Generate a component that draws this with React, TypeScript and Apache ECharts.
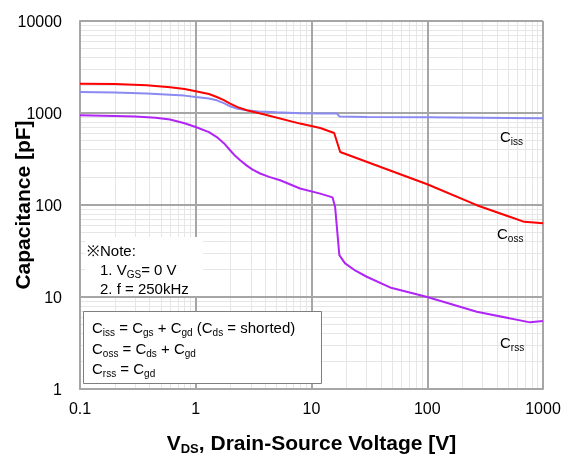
import React, { useEffect, useRef } from 'react';
import * as echarts from 'echarts';

// V_DS [V] and capacitance [pF]
const cissV = [0.1, 0.2, 0.376, 0.6, 0.8, 1, 1.3, 1.52, 1.75, 1.98, 2.3, 2.76, 3.5, 5, 8, 12, 16.6, 17.5, 30, 100, 300, 1000];
const cissC = [1690, 1670, 1625, 1580, 1545, 1493, 1440, 1374, 1280, 1183, 1110, 1070, 1040, 1016, 995, 985, 985, 915, 905, 898, 888, 876];

const cossV = [0.1, 0.2, 0.376, 0.6, 0.8, 1, 1.3, 1.52, 1.75, 1.98, 2.3, 2.76, 4, 7.96, 11.9, 15.7, 17.7, 100, 268, 689, 1000];
const cossC = [2085, 2060, 2000, 1900, 1820, 1720, 1610, 1493, 1380, 1265, 1160, 1070, 955, 767, 687, 607, 377, 168, 99.5, 65.6, 63.5];

const crssV = [0.1, 0.2, 0.3, 0.45, 0.6, 0.8, 1, 1.3, 1.52, 1.75, 1.98, 2.2, 2.42, 2.76, 3.1, 3.6, 4.3, 5.36, 7.96, 11.9, 15.2, 16, 17.4, 19.5, 24, 30, 47.7, 100, 268, 774, 1000];
const crssC = [944, 930, 918, 890, 850, 775, 705, 620, 548, 470, 394, 340, 306, 268, 242, 220, 202, 186, 151, 133, 121, 95, 28.5, 23.2, 19.3, 16.6, 12.7, 10, 6.9, 5.3, 5.5];

const xDecades = [0.1, 1, 10, 100];
const yDecades = [1, 10, 100, 1000];
const minorMult = [2, 3, 4, 5, 6, 7, 8, 9];

const FONT = 'Liberation Sans, Arial, sans-serif';

export default function App() {
  const ref = useRef<HTMLDivElement>(null);
  useEffect(() => {
    const chart = echarts.init(ref.current!, null, { renderer: 'svg' });
    const pair = (xs: number[], ys: number[]) => xs.map((x, i) => [x, ys[i]]);
    const minorX = xDecades.flatMap((d) => minorMult.map((m) => ({ xAxis: +(d * m).toPrecision(4) })));
    const minorY = yDecades.flatMap((d) => minorMult.map((m) => ({ yAxis: +(d * m).toPrecision(4) })));
    const fmt = (v: number) => String(+(+v).toPrecision(6));

    const gRich = {
      n: { fontSize: 15, lineHeight: 20, fontFamily: FONT, fill: '#000' },
      s: { fontSize: 10, lineHeight: 10, verticalAlign: 'bottom', fontFamily: FONT, fill: '#000' },
    };
    const txt = (x: number, y: number, text: string) => ({
      type: 'text',
      x,
      y,
      z: 20,
      silent: true,
      style: { text, rich: gRich, verticalAlign: 'middle', align: 'left', fontFamily: FONT, fontSize: 15, fill: '#000' },
    });

    const gridGray = '#a6a6a6';
    const curve = { type: 'line', symbol: 'none', smooth: false };

    chart.setOption({
      animation: false,
      grid: { left: 80, right: 43, top: 21, bottom: 66, containLabel: false, outerBoundsMode: 'none' },
      xAxis: {
        type: 'log',
        logBase: 10,
        min: 0.1,
        max: 1000,
        z: 1.5,
        axisLine: { show: true, lineStyle: { color: gridGray, width: 2 } },
        axisTick: { show: false },
        axisLabel: { fontSize: 16, color: '#000', fontFamily: FONT, margin: 11, formatter: fmt },
        splitLine: { show: true, lineStyle: { color: gridGray, width: 2 } },
        name: '{n|V}{s|DS}{n|, Drain-Source Voltage [V]}',
        nameLocation: 'middle',
        nameGap: 40,
        nameMoveOverlap: false,
        nameTextStyle: {
          fontFamily: FONT,
          fontWeight: 'bold',
          fontSize: 21,
          color: '#000',
          rich: {
            n: { fontSize: 21, lineHeight: 26, fontWeight: 'bold', fontFamily: FONT, color: '#000' },
            s: { fontSize: 13, lineHeight: 13, verticalAlign: 'bottom', fontWeight: 'bold', fontFamily: FONT, color: '#000' },
          },
        },
      },
      yAxis: {
        type: 'log',
        logBase: 10,
        min: 1,
        max: 10000,
        z: 1.5,
        axisLine: { show: true, lineStyle: { color: gridGray, width: 2 } },
        axisTick: { show: false },
        axisLabel: { fontSize: 16, color: '#000', fontFamily: FONT, margin: 18, formatter: fmt },
        splitLine: { show: true, lineStyle: { color: gridGray, width: 2 } },
        name: 'Capacitance [pF]',
        nameLocation: 'middle',
        nameGap: 47,
        nameMoveOverlap: false,
        nameTextStyle: { fontFamily: FONT, fontWeight: 'bold', fontSize: 21, color: '#000' },
      },
      series: [
        {
          type: 'line',
          data: [[1, 1]],
          showSymbol: false,
          symbol: 'none',
          lineStyle: { opacity: 0 },
          silent: true,
          markLine: {
            silent: true,
            symbol: 'none',
            z: 1,
            label: { show: false },
            lineStyle: { color: '#e6e6e6', width: 1, type: 'solid' },
            data: [...minorX, ...minorY],
          },
        },
        { ...curve, name: 'Ciss', data: pair(cissV, cissC), z: 3, lineStyle: { color: '#8a8af2', width: 2 } },
        { ...curve, name: 'Coss', data: pair(cossV, cossC), z: 4, lineStyle: { color: '#ff0000', width: 2 } },
        { ...curve, name: 'Crss', data: pair(crssV, crssC), z: 4, lineStyle: { color: '#b025f5', width: 2 } },
      ],
      graphic: [
        { type: 'rect', z: 10, silent: true, shape: { x: 85, y: 237, width: 118, height: 59 }, style: { fill: '#fff' } },
        txt(87, 250, '{n|※Note:}'),
        txt(100, 269, '{n|1. V}{s|GS}{n|= 0 V}'),
        txt(100, 288, '{n|2. f = 250kHz}'),
        {
          type: 'rect',
          z: 10,
          silent: true,
          shape: { x: 83.5, y: 311.5, width: 238, height: 72 },
          style: { fill: '#fff', stroke: '#7f7f7f', lineWidth: 1 },
        },
        txt(92, 327, '{n|C}{s|iss}{n| = C}{s|gs}{n| + C}{s|gd}{n| (C}{s|ds}{n| = shorted)}'),
        txt(92, 348, '{n|C}{s|oss}{n| = C}{s|ds}{n| + C}{s|gd}'),
        txt(92, 368, '{n|C}{s|rss}{n| = C}{s|gd}'),
        txt(500, 136, '{n|C}{s|iss}'),
        txt(497, 233, '{n|C}{s|oss}'),
        txt(500, 342, '{n|C}{s|rss}'),
      ],
    });
    return () => chart.dispose();
  }, []);
  return <div ref={ref} style={{ position: 'fixed', left: 0, top: 0, width: 586, height: 455 }} />;
}
